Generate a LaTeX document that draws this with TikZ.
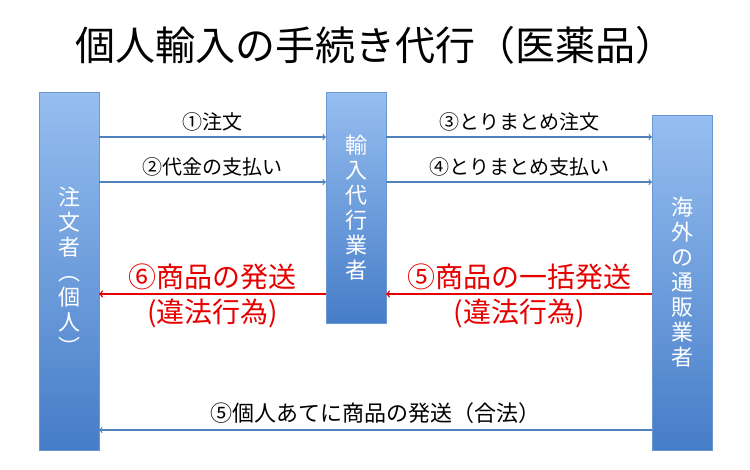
\documentclass[tikz,border=0pt]{standalone}
\usepackage{fontspec}
\setmainfont{Noto Sans CJK JP}
\usepackage{tikz}
\usetikzlibrary{arrows, positioning, shadings}
\definecolor{barlight}{RGB}{150,190,240}
\definecolor{bardark}{RGB}{70,125,200}
\definecolor{flowblue}{RGB}{79,129,189}
\definecolor{illegalred}{RGB}{230,0,0}
\tikzstyle{party} = [rectangle, draw=bardark!80, top color=barlight, bottom color=bardark, text=white, font=\fontsize{22}{25}\selectfont, align=center, inner sep=0pt]
\tikzstyle{flow} = [draw=flowblue, line width=1.3pt, ->, >=to]

\begin{document}
\begin{tikzpicture}[
    x=1pt, y=-1pt,
    label/.style={font=\fontsize{20}{22}\selectfont},
    redlabel/.style={font=\fontsize{28}{32}\selectfont, text=illegalred},
    badflow/.style={draw=illegalred, line width=1.5pt, ->, >=to}
]
\useasboundingbox (0,0) rectangle (750,469);

% Title
\node[font=\fontsize{40}{46}\selectfont] (title) at (375,45) {個人輸入の手続き代行（医薬品）};

% Parties
\node[party, minimum width=60pt, minimum height=358pt] (buyer) at (69,271) {注\\文\\者\\︵\\個\\人\\︶};
\node[party, minimum width=60pt, minimum height=231pt] (agent) at (356,207.5) {輸\\入\\代\\行\\業\\者};
\node[party, minimum width=60pt, minimum height=335pt] (shop) at (682,282.5) {海\\外\\の\\通\\販\\業\\者};

% Anchors on the bars
\coordinate (b1) at (99,137);  \coordinate (a1) at (326,137);
\coordinate (b2) at (99,182);  \coordinate (a2) at (326,182);
\coordinate (a3) at (386,137); \coordinate (s3) at (652,137);
\coordinate (a4) at (386,182); \coordinate (s4) at (652,182);
\coordinate (b6) at (99,294);  \coordinate (a6) at (326,294);
\coordinate (a5) at (386,294); \coordinate (s5) at (652,294);
\coordinate (b7) at (99,430);  \coordinate (s7) at (652,430);

% Orders and payments
\draw[flow] (b1) -- node[label, above=2pt] {①注文} (a1);
\draw[flow] (b2) -- node[label, above=2pt] {②代金の支払い} (a2);
\draw[flow] (a3) -- node[label, above=2pt] {③とりまとめ注文} (s3);
\draw[flow] (a4) -- node[label, above=2pt] {④とりまとめ支払い} (s4);

% Shipping via agent
\draw[badflow] (a6) -- node[redlabel, above=0pt] {⑥商品の発送} node[redlabel, below=1pt] {(違法行為)} (b6);
\draw[badflow] (s5) -- node[redlabel, above=0pt] {⑤商品の一括発送} node[redlabel, below=1pt] {(違法行為)} (a5);

% Direct shipping
\draw[flow] (s7) -- node[label, above=2pt, font=\fontsize{22}{24}\selectfont] {⑤個人あてに商品の発送（合法）} (b7);

\end{tikzpicture}
\end{document}
